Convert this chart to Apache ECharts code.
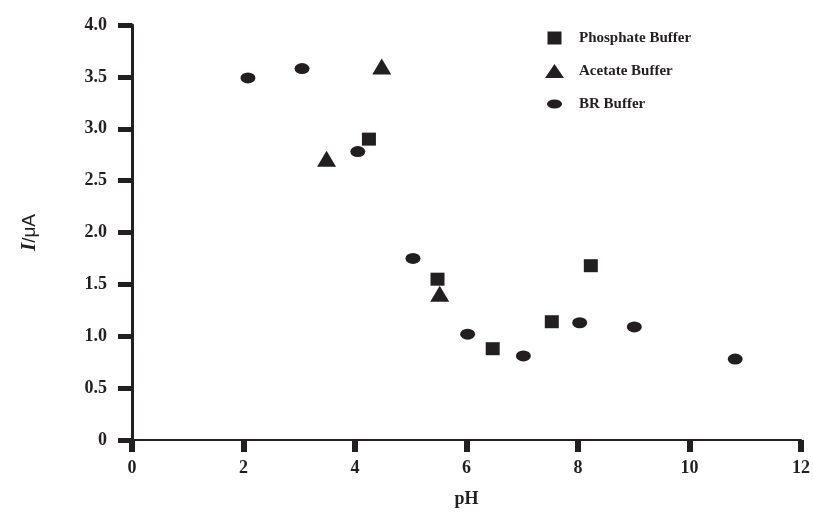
<!DOCTYPE html>
<html>
<head>
<meta charset="utf-8">
<script src="https://cdn.jsdelivr.net/npm/echarts@6/dist/echarts.min.js"></script>
<style>
  html, body { margin: 0; padding: 0; background: #fff; }
  #chart { width: 813px; height: 513px; }
</style>
</head>
<body>
<div id="chart"></div>
<script>
// values
var phosphatePH = [4.25, 5.48, 6.47, 7.53, 8.23]
var phosphateI = [2.90, 1.55, 0.88, 1.14, 1.68]

var acetatePH = [3.49, 4.48, 5.52]
var acetateI = [2.71, 3.60, 1.41]

var brPH = [2.08, 3.05, 4.05, 5.04, 6.02, 7.02, 8.03, 9.01, 10.82]
var brI = [3.49, 3.58, 2.78, 1.75, 1.02, 0.81, 1.13, 1.09, 0.78]

var seriesNames = ['Phosphate Buffer', 'Acetate Buffer', 'BR Buffer']

function pairs(xs, ys) {
  return xs.map(function (x, i) { return [x, ys[i]] })
}

var font = '"Liberation Serif", "Times New Roman", serif'
var ink = '#231f20'

// legend icons drawn in a 19x14 box (leading M points pin the box)
var iconSquare = 'path://M0,0M19,14M2.5,0.5L16.5,0.5L16.5,13.5L2.5,13.5Z'
var iconTriangle = 'path://M0,0M19,14M0,14L9.5,0L19,14Z'
var iconEllipse = 'path://M0,0M19,14M2,7A7.5,4.5,0,1,1,17,7A7.5,4.5,0,1,1,2,7Z'

var chart = echarts.init(document.getElementById('chart'))
chart.setOption({
  animation: false,
  backgroundColor: '#fff',
  grid: { left: 132, right: 10, top: 25, bottom: 70 },
  legend: {
    orient: 'vertical',
    left: 540,
    top: 25,
    itemGap: 17,
    itemWidth: 19,
    itemHeight: 14,
    symbolKeepAspect: false,
    data: [
      { name: seriesNames[0], icon: iconSquare },
      { name: seriesNames[1], icon: iconTriangle },
      { name: seriesNames[2], icon: iconEllipse }
    ],
    textStyle: { fontFamily: font, fontWeight: 'bold', fontSize: 15, lineHeight: 16, color: ink, padding: [0, 0, 0, 10] }
  },
  xAxis: {
    type: 'value',
    min: 0,
    max: 12,
    interval: 2,
    name: 'pH',
    nameLocation: 'middle',
    nameGap: 50,
    nameTextStyle: { fontFamily: font, fontWeight: 'bold', fontSize: 18, color: ink },
    axisLine: { show: true, onZero: false, lineStyle: { color: ink, width: 2 } },
    axisTick: { show: true, inside: false, length: 12, lineStyle: { color: ink, width: 6 } },
    splitLine: { show: false },
    axisLabel: { margin: 19, fontFamily: font, fontWeight: 'bold', fontSize: 18, color: ink }
  },
  yAxis: {
    type: 'value',
    min: 0,
    max: 4,
    interval: 0.5,
    name: '{i|I}{u|/μA}',
    nameLocation: 'middle',
    nameRotate: 90,
    nameGap: 92,
    nameTextStyle: {
      rich: {
        i: { fontFamily: font, fontWeight: 'bold', fontStyle: 'italic', fontSize: 21, color: ink },
        u: { fontFamily: '"Liberation Sans", Arial, sans-serif', fontSize: 19, color: ink }
      }
    },
    axisLine: { show: true, onZero: false, lineStyle: { color: ink, width: 3 } },
    axisTick: { show: true, inside: false, length: 14, lineStyle: { color: ink, width: 5 } },
    splitLine: { show: false },
    axisLabel: {
      margin: 25,
      fontFamily: font,
      fontWeight: 'bold',
      fontSize: 18,
      color: ink,
      formatter: function (v) { return v === 0 ? '0' : v.toFixed(1) }
    }
  },
  series: [
    {
      name: seriesNames[0],
      type: 'scatter',
      symbol: 'rect',
      symbolSize: [14, 13],
      itemStyle: { color: ink, opacity: 1 },
      data: pairs(phosphatePH, phosphateI)
    },
    {
      name: seriesNames[1],
      type: 'scatter',
      symbol: 'triangle',
      symbolSize: [19, 16],
      itemStyle: { color: ink, opacity: 1 },
      data: pairs(acetatePH, acetateI)
    },
    {
      name: seriesNames[2],
      type: 'scatter',
      symbol: 'circle',
      symbolSize: [15, 11],
      itemStyle: { color: ink, opacity: 1 },
      data: pairs(brPH, brI)
    }
  ]
})
</script>
</body>
</html>
